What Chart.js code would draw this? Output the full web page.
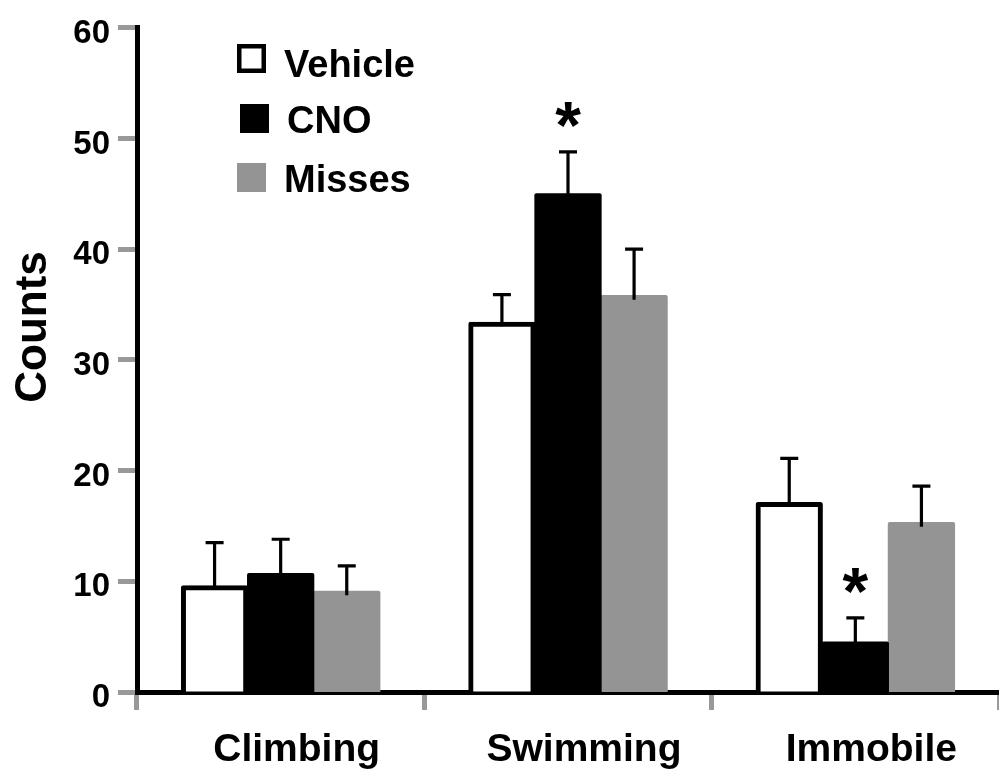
<!DOCTYPE html>
<html>
<head>
<meta charset="utf-8">
<script src="https://cdn.jsdelivr.net/npm/chart.js@4"></script>
<style>
  html, body { margin: 0; padding: 0; background: #fff; overflow: hidden; }
  canvas { display: block; }
</style>
</head>
<body>
<canvas id="forcedSwim" width="999" height="773"></canvas>
<script>
// data
const categories = ['Climbing', 'Swimming', 'Immobile'];
const vehicle = [9.6, 33.4, 17.1];
const vehicleErr = [3.9, 2.5, 4.0];
const cno = [10.7, 45.0, 4.5];
const cnoErr = [3.1, 3.8, 2.2];
const misses = [9.1, 35.8, 15.3];
const missesErr = [2.3, 4.2, 3.3];
const cnoSignificant = [false, true, true];
const yTicks = [0, 10, 20, 30, 40, 50, 60];

const FONT = '"Liberation Sans", Arial, Helvetica, sans-serif';
const GREY = '#949494';

// upward-only error bars + significance stars
const errorBars = {
  id: 'errorBars',
  afterDatasetsDraw(chart) {
    const ctx = chart.ctx;
    const y = chart.scales.y;
    ctx.save();
    ctx.strokeStyle = '#000';
    ctx.lineWidth = 3.2;
    chart.data.datasets.forEach((ds, di) => {
      const meta = chart.getDatasetMeta(di);
      meta.data.forEach((bar, i) => {
        const top = y.getPixelForValue(ds.data[i] + ds.errors[i]);
        ctx.beginPath();
        ctx.moveTo(bar.x, bar.y + 4);
        ctx.lineTo(bar.x, top);
        ctx.moveTo(bar.x - 9, top);
        ctx.lineTo(bar.x + 9, top);
        ctx.stroke();
        if (ds.significant && ds.significant[i]) {
          ctx.font = 'bold 66px ' + FONT;
          ctx.fillStyle = '#000';
          ctx.textAlign = 'center';
          ctx.textBaseline = 'alphabetic';
          const m = ctx.measureText('*');
          const cy = top - 37;
          ctx.fillText('*', bar.x, cy + (m.actualBoundingBoxAscent - m.actualBoundingBoxDescent) / 2);
        }
      });
    });
    ctx.restore();
  }
};

// legend in the upper left of the plot + y axis title
const sideText = {
  id: 'sideText',
  afterDraw(chart) {
    const ctx = chart.ctx;
    ctx.save();
    const rows = [
      { box: [237, 44], text: [284, 77] },
      { box: [240, 104], text: [287, 133] },
      { box: [237, 163], text: [284, 192] }
    ];
    chart.data.datasets.forEach((ds, i) => {
      const r = rows[i];
      ctx.fillStyle = ds.backgroundColor;
      ctx.fillRect(r.box[0], r.box[1], 29, 29);
      if (ds.borderWidth) {
        ctx.strokeStyle = ds.borderColor;
        ctx.lineWidth = 4.5;
        ctx.strokeRect(r.box[0] + 2.25, r.box[1] + 2.25, 29 - 4.5, 29 - 4.5);
      }
      ctx.fillStyle = '#000';
      ctx.font = 'bold 38px ' + FONT;
      ctx.textAlign = 'left';
      ctx.textBaseline = 'alphabetic';
      ctx.fillText(ds.label, r.text[0], r.text[1]);
    });

    ctx.translate(46, 327);
    ctx.rotate(-Math.PI / 2);
    ctx.font = 'bold 44px ' + FONT;
    ctx.textAlign = 'center';
    ctx.textBaseline = 'alphabetic';
    ctx.fillStyle = '#000';
    ctx.fillText('Counts', 0, 0);
    ctx.restore();
  }
};

new Chart(document.getElementById('forcedSwim'), {
  type: 'bar',
  data: {
    labels: categories,
    datasets: [
      {
        label: 'Vehicle',
        data: vehicle,
        errors: vehicleErr,
        backgroundColor: '#ffffff',
        borderColor: '#000000',
        borderWidth: 5,
        borderRadius: 2,
        inflateAmount: 0.6
      },
      {
        label: 'CNO',
        data: cno,
        errors: cnoErr,
        significant: cnoSignificant,
        backgroundColor: '#000000',
        borderWidth: 0,
        borderRadius: 2,
        inflateAmount: 0.6
      },
      {
        label: 'Misses',
        data: misses,
        errors: missesErr,
        backgroundColor: GREY,
        borderWidth: 0,
        borderRadius: 2,
        inflateAmount: 0.6
      }
    ]
  },
  options: {
    responsive: false,
    animation: false,
    devicePixelRatio: 1,
    categoryPercentage: 0.69,
    barPercentage: 1.0,
    layout: { padding: { top: 25, left: 0, right: 0, bottom: 0 } },
    plugins: {
      legend: { display: false },
      tooltip: { enabled: false }
    },
    scales: {
      x: {
        z: 1,
        grid: {
          display: true,
          offset: true,
          drawOnChartArea: false,
          tickLength: 18,
          tickColor: '#999999',
          tickWidth: 5
        },
        border: { display: true, color: '#000', width: 5 },
        ticks: {
          color: '#000',
          font: { family: FONT, size: 39, weight: 'bold' },
          padding: 17,
          labelOffset: 16,
          maxRotation: 0
        },
        afterFit(scale) { scale.height = 81; }
      },
      y: {
        z: 1,
        min: 0,
        max: 60,
        afterBuildTicks(scale) { scale.ticks = yTicks.map(v => ({ value: v })); },
        grid: {
          display: true,
          drawOnChartArea: false,
          tickLength: 19,
          tickColor: '#999999',
          tickWidth: 5
        },
        border: { display: true, color: '#000', width: 5 },
        ticks: {
          color: '#000',
          font: { family: FONT, size: 33, weight: 'bold' },
          padding: 8,
          labelOffset: 6
        },
        afterFit(scale) { scale.width = 137; }
      }
    }
  },
  plugins: [errorBars, sideText]
});
</script>
</body>
</html>
